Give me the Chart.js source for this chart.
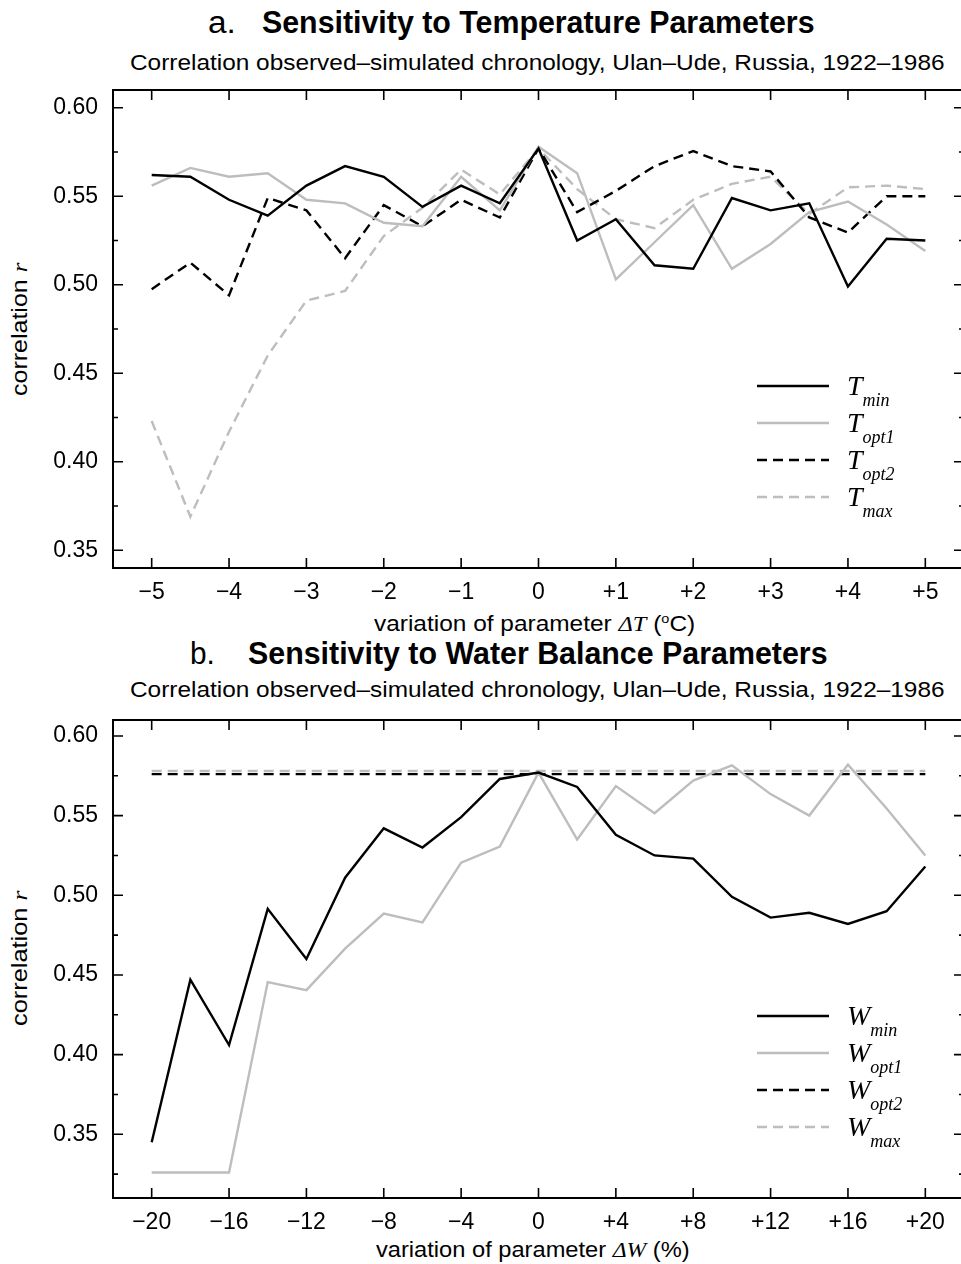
<!DOCTYPE html>
<html><head><meta charset="utf-8">
<script src="https://cdn.jsdelivr.net/npm/chart.js@4/dist/chart.umd.min.js"></script>
<style>
html,body{margin:0;padding:0;background:#fff;overflow:hidden;width:961px;height:1264px;position:relative;}
.t{position:absolute;white-space:nowrap;font-family:"Liberation Sans",Arial,sans-serif;color:#000;transform-origin:0 50%;display:inline-block;}
.ser{font-family:"Liberation Serif","Times New Roman",serif;font-style:italic;}
.rot{position:absolute;width:240px;height:30px;line-height:30px;text-align:center;transform:rotate(-90deg);font-family:"Liberation Sans",Arial,sans-serif;font-size:22px;white-space:nowrap;}
.rot span.in{display:inline-block;transform-origin:50% 50%;}
canvas{position:absolute;left:0;}
</style></head><body>

<div class="t" data-w="28" style="left:208px;top:7px;font-size:31px;line-height:31px;">a.</div>
<div class="t" data-w="553" style="left:262px;top:7px;font-size:31px;line-height:31px;font-weight:bold;">Sensitivity to Temperature Parameters</div>
<div class="t" data-w="815" style="left:130px;top:52px;font-size:22px;line-height:22px;">Correlation observed–simulated chronology, Ulan–Ude, Russia, 1922–1986</div>
<div class="t" data-w="321" style="left:374px;top:608px;font-size:22px;line-height:22px;">variation of parameter <span class="ser">ΔT</span> (<sup style="font-size:13px;">o</sup>C)</div>
<div class="rot" style="left:-100px;top:314px;"><span class="in" data-w="133">correlation <span class="ser">r</span></span></div>

<div class="t" data-w="25" style="left:190px;top:638px;font-size:31px;line-height:31px;">b.</div>
<div class="t" data-w="580" style="left:248px;top:638px;font-size:31px;line-height:31px;font-weight:bold;">Sensitivity to Water Balance Parameters</div>
<div class="t" data-w="815" style="left:130px;top:679px;font-size:22px;line-height:22px;">Correlation observed–simulated chronology, Ulan–Ude, Russia, 1922–1986</div>
<div class="t" data-w="314" style="left:376px;top:1239px;font-size:22px;line-height:22px;">variation of parameter <span class="ser">ΔW</span> (%)</div>
<div class="rot" style="left:-100px;top:943px;"><span class="in" data-w="135">correlation <span class="ser">r</span></span></div>

<canvas id="ca" width="970" height="640" style="top:0;"></canvas>
<canvas id="cb" width="970" height="634" style="top:630px;"></canvas>

<script>
// ---- Panel a: temperature parameters ----
const deltaT = [-5,-4.5,-4,-3.5,-3,-2.5,-2,-1.5,-1,-0.5,0,0.5,1,1.5,2,2.5,3,3.5,4,4.5,5];
const tMin  = [0.562,0.561,0.548,0.539,0.556,0.567,0.561,0.544,0.556,0.546,0.577,0.525,0.537,0.511,0.509,0.549,0.542,0.546,0.499,0.526,0.525];
const tOpt1 = [0.556,0.566,0.561,0.563,0.548,0.546,0.535,0.533,0.561,0.542,0.578,0.563,0.503,0.524,0.545,0.509,0.523,0.541,0.547,0.534,0.519];
const tOpt2 = [0.4975,0.5125,0.494,0.549,0.542,0.515,0.545,0.533,0.548,0.538,0.577,0.541,0.553,0.567,0.5755,0.567,0.564,0.538,0.5295,0.550,0.550];
const tMax  = [0.423,0.369,0.417,0.460,0.491,0.4965,0.5275,0.5435,0.565,0.551,0.577,0.554,0.537,0.532,0.548,0.557,0.561,0.540,0.555,0.556,0.554];
const xTicksA = [-5,-4,-3,-2,-1,0,1,2,3,4,5];
const yLabelsA = [0.35,0.40,0.45,0.50,0.55,0.60];
const yMinorA = [0.375,0.425,0.475,0.525,0.575];

// ---- Panel b: water balance parameters ----
const deltaW = [-20,-18,-16,-14,-12,-10,-8,-6,-4,-2,0,2,4,6,8,10,12,14,16,18,20];
const wMin  = [0.345,0.447,0.406,0.4915,0.460,0.511,0.542,0.530,0.549,0.573,0.577,0.568,0.538,0.525,0.523,0.499,0.486,0.489,0.482,0.490,0.518];
const wOpt1 = [0.326,0.326,0.326,0.4455,0.4405,0.4665,0.4885,0.483,0.5205,0.5305,0.577,0.535,0.5685,0.5515,0.572,0.5815,0.5635,0.550,0.582,0.5545,0.525];
const wOpt2 = [0.576,0.576,0.576,0.576,0.576,0.576,0.576,0.576,0.576,0.576,0.576,0.576,0.576,0.576,0.576,0.576,0.576,0.576,0.576,0.576,0.576];
const wMax  = [0.578,0.578,0.578,0.578,0.578,0.578,0.578,0.578,0.578,0.578,0.578,0.578,0.578,0.578,0.578,0.578,0.578,0.578,0.578,0.578,0.578];
const xTicksB = [-20,-16,-12,-8,-4,0,4,8,12,16,20];
const yLabelsB = [0.35,0.40,0.45,0.50,0.55,0.60];
const yMinorB = [0.325,0.375,0.425,0.475,0.525,0.575];

const BLACK = '#000000', GRAY = '#bdbdbd', DASH = [10,6];
const fmtX = v => v === 0 ? '0' : (v > 0 ? '+' + v : '\u2212' + Math.abs(v));

const framePlugin = {
  id: 'frame',
  afterDatasetsDraw(chart) {
    const {ctx, chartArea: a, scales: {x, y}} = chart;
    const majors = chart.options.plugins.frame.majors;
    ctx.save();
    ctx.strokeStyle = '#000'; ctx.lineWidth = 2;
    ctx.strokeRect(a.left, a.top, a.right - a.left, a.bottom - a.top);
    ctx.lineWidth = 1.6;
    ctx.beginPath();
    x.ticks.forEach(t => {
      const px = x.getPixelForValue(t.value);
      ctx.moveTo(px, a.bottom); ctx.lineTo(px, a.bottom - 10);
      ctx.moveTo(px, a.top); ctx.lineTo(px, a.top + 10);
    });
    y.ticks.forEach(t => {
      const py = y.getPixelForValue(t.value);
      const len = majors.includes(t.value) ? 10 : 5;
      ctx.moveTo(a.left, py); ctx.lineTo(a.left + len, py);
      ctx.moveTo(a.right, py); ctx.lineTo(a.right - len, py);
    });
    ctx.stroke();
    ctx.restore();
  }
};

const legendPlugin = {
  id: 'symLegend',
  afterDraw(chart) {
    const {ctx, chartArea: a} = chart;
    ctx.save();
    chart.data.datasets.forEach((ds, i) => {
      const yy = a.top + 296 + i * 37;
      ctx.strokeStyle = ds.borderColor; ctx.lineWidth = 2.4;
      ctx.setLineDash(ds.borderDash || []);
      ctx.beginPath(); ctx.moveTo(a.right - 207, yy); ctx.lineTo(a.right - 135, yy); ctx.stroke();
      ctx.setLineDash([]);
      ctx.fillStyle = '#000'; ctx.textBaseline = 'alphabetic'; ctx.textAlign = 'left';
      ctx.font = 'italic 28px "Liberation Serif", "Times New Roman", serif';
      const x0 = a.right - 117;
      ctx.fillText(ds.sym, x0, yy + 9);
      const w = ctx.measureText(ds.sym).width;
      ctx.font = 'italic 18px "Liberation Serif", "Times New Roman", serif';
      ctx.fillText(ds.sub, x0 + w, yy + 20);
    });
    ctx.restore();
  }
};

function makeChart(id, xs, series, syms, xMin, xMax, yMin, yMax, xTicks, yLabels, yMinor, xAxisH) {
  const styles = [
    {borderColor: BLACK, borderDash: []},
    {borderColor: GRAY, borderDash: []},
    {borderColor: BLACK, borderDash: DASH},
    {borderColor: GRAY, borderDash: DASH}
  ];
  const subs = ['min', 'opt1', 'opt2', 'max'];
  const yAll = yLabels.concat(yMinor).sort((p, q) => p - q);
  return new Chart(document.getElementById(id), {
    type: 'line',
    data: {
      datasets: series.map((s, i) => ({
        data: xs.map((xv, k) => ({x: xv, y: s[k]})),
        borderColor: styles[i].borderColor,
        borderDash: styles[i].borderDash,
        borderWidth: 2.4,
        pointRadius: 0,
        tension: 0,
        fill: false,
        sym: syms,
        sub: subs[i]
      }))
    },
    options: {
      responsive: false,
      animation: false,
      devicePixelRatio: 1,
      layout: {padding: {top: 90, left: 0, right: 6, bottom: 0}},
      plugins: {legend: {display: false}, tooltip: {enabled: false}, title: {display: false},
        frame: {majors: yLabels}},
      scales: {
        x: {
          type: 'linear', min: xMin, max: xMax,
          afterBuildTicks: sc => { sc.ticks = xTicks.map(v => ({value: v})); },
          afterFit: sc => { sc.height = xAxisH; },
          grid: {display: false, drawTicks: false},
          border: {display: false},
          ticks: {callback: v => fmtX(v), color: '#000', padding: 11, maxRotation: 0, autoSkip: false,
            font: {family: '"Liberation Sans", Arial, sans-serif', size: 23}}
        },
        y: {
          type: 'linear', min: yMin, max: yMax,
          afterBuildTicks: sc => { sc.ticks = yAll.map(v => ({value: v})); },
          afterFit: sc => { sc.width = 113; },
          grid: {display: false, drawTicks: false},
          border: {display: false},
          ticks: {callback: v => yLabels.includes(v) ? v.toFixed(2) : '', color: '#000', padding: 15, autoSkip: false,
            font: {family: '"Liberation Sans", Arial, sans-serif', size: 23}}
        }
      }
    },
    plugins: [framePlugin, legendPlugin]
  });
}

makeChart('ca', deltaT, [tMin, tOpt1, tOpt2, tMax], 'T', -5.5, 5.5, 0.34, 0.61, xTicksA, yLabelsA, yMinorA, 72);
makeChart('cb', deltaW, [wMin, wOpt1, wOpt2, wMax], 'W', -22, 22, 0.31, 0.61, xTicksB, yLabelsB, yMinorB, 66);

// fit text widths (layout width, unaffected by transforms)
document.querySelectorAll('[data-w]').forEach(el => {
  const w = el.offsetWidth;
  const target = parseFloat(el.dataset.w);
  if (w > 0) el.style.transform = 'scaleX(' + (target / w) + ')';
});
</script>
</body></html>
